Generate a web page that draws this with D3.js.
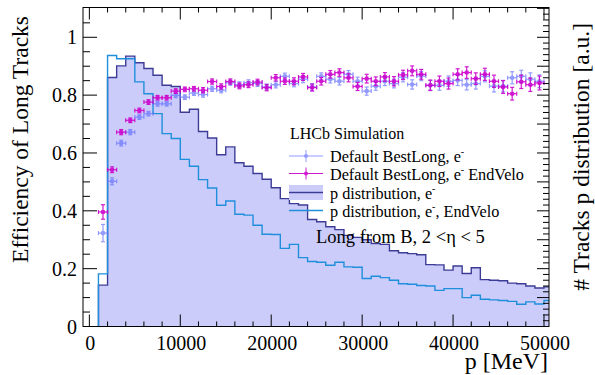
<!doctype html>
<meta charset="utf-8">
<title>Efficiency of Long Tracks</title>
<script src="https://cdn.jsdelivr.net/npm/d3@7/dist/d3.min.js"></script>
<style>
  body { margin: 0; background: #fff; }
  text { font-family: "Liberation Serif", "Times New Roman", serif; fill: #000; }
</style>
<body>
<div id="chart"></div>
<script>

// histogram bins, 1000 MeV wide (low edges)
var binLo = [1000, 2000, 3000, 4000, 5000, 6000, 7000, 8000, 9000, 10000,
  11000, 12000, 13000, 14000, 15000, 16000, 17000, 18000, 19000, 20000,
  21000, 22000, 23000, 24000, 25000, 26000, 27000, 28000, 29000, 30000,
  31000, 32000, 33000, 34000, 35000, 36000, 37000, 38000, 39000, 40000,
  41000, 42000, 43000, 44000, 45000, 46000, 47000, 48000, 49000, 50000];
var binWidth = 1000;

// p distribution, e- (filled)
var histAll = [0.143, 0.861, 0.901, 0.935, 0.912, 0.892, 0.869, 0.834, 0.830, 0.741,
  0.751, 0.674, 0.652, 0.594, 0.621, 0.566, 0.554, 0.529, 0.509, 0.480,
  0.442, 0.425, 0.420, 0.370, 0.362, 0.345, 0.335, 0.315, 0.308, 0.300,
  0.287, 0.284, 0.262, 0.255, 0.252, 0.248, 0.214, 0.213, 0.195, 0.209,
  0.183, 0.203, 0.162, 0.160, 0.158, 0.150, 0.148, 0.140, 0.133, 0.137];

// p distribution, e-, EndVelo
var histEndVelo = [0.182, 0.937, 0.926, 0.926, 0.846, 0.805, 0.736, 0.667, 0.650, 0.578,
  0.554, 0.508, 0.479, 0.419, 0.434, 0.388, 0.385, 0.350, 0.319, 0.318,
  0.270, 0.284, 0.238, 0.225, 0.222, 0.212, 0.222, 0.206, 0.205, 0.166,
  0.174, 0.169, 0.160, 0.148, 0.146, 0.142, 0.140, 0.125, 0.131, 0.131,
  0.100, 0.108, 0.094, 0.092, 0.090, 0.087, 0.077, 0.085, 0.078, 0.090];

// efficiency points (bin centres)
var effP = [1500, 2500, 3500, 4500, 5500, 6500, 7500, 8500, 9500, 10500,
  11500, 12500, 13500, 14500, 15500, 16500, 17500, 18500, 19500, 20500,
  21500, 22500, 23500, 24500, 25500, 26500, 27500, 28500, 29500, 30500,
  31500, 32500, 33500, 34500, 35500, 36500, 37500, 38500, 39500, 40500,
  41500, 42500, 43500, 44500, 45500, 46500, 47500, 48500, 49500];

var effBest = [0.323, 0.502, 0.634, 0.672, 0.724, 0.736, 0.770, 0.770, 0.799, 0.793,
  0.807, 0.802, 0.822, 0.817, 0.843, 0.836, 0.843, 0.840, 0.828, 0.836,
  0.865, 0.840, 0.855, 0.828, 0.865, 0.855, 0.848, 0.872, 0.848, 0.814,
  0.831, 0.848, 0.840, 0.862, 0.837, 0.866, 0.834, 0.834, 0.848, 0.851,
  0.836, 0.840, 0.865, 0.831, 0.831, 0.860, 0.865, 0.855, 0.848];
var errBest = [0.030, 0.012, 0.010, 0.009, 0.008, 0.008, 0.008, 0.008, 0.008, 0.008,
  0.008, 0.009, 0.009, 0.009, 0.009, 0.010, 0.010, 0.010, 0.010, 0.011,
  0.011, 0.011, 0.012, 0.012, 0.012, 0.013, 0.013, 0.013, 0.014, 0.014,
  0.014, 0.015, 0.015, 0.016, 0.016, 0.016, 0.017, 0.017, 0.018, 0.018,
  0.018, 0.019, 0.019, 0.020, 0.020, 0.021, 0.021, 0.022, 0.022];

var effEndVelo = [0.396, 0.542, 0.672, 0.713, 0.747, 0.776, 0.791, 0.791, 0.814, 0.820,
  0.822, 0.817, 0.847, 0.830, 0.847, 0.832, 0.836, 0.845, 0.826, 0.860,
  0.848, 0.848, 0.863, 0.826, 0.848, 0.872, 0.878, 0.860, 0.830, 0.857,
  0.848, 0.863, 0.848, 0.870, 0.884, 0.872, 0.834, 0.848, 0.840, 0.872,
  0.878, 0.857, 0.872, 0.848, 0.828, 0.805, 0.846, 0.836, 0.842];
var errEndVelo = [0.025, 0.010, 0.009, 0.008, 0.008, 0.008, 0.008, 0.008, 0.008, 0.008,
  0.008, 0.009, 0.009, 0.009, 0.009, 0.010, 0.010, 0.010, 0.011, 0.011,
  0.011, 0.012, 0.012, 0.012, 0.013, 0.013, 0.013, 0.014, 0.014, 0.015,
  0.015, 0.015, 0.016, 0.016, 0.017, 0.017, 0.018, 0.018, 0.019, 0.019,
  0.020, 0.020, 0.021, 0.021, 0.022, 0.022, 0.023, 0.023, 0.024];

var xTicks = [0, 10000, 20000, 30000, 40000, 50000];
var yTicks = [0, 0.2, 0.4, 0.6, 0.8, 1];
var yTickLabels = ["0", "0.2", "0.4", "0.6", "0.8", "1"];

var W = 595, H = 375;
var fL = 83, fR = 549, fT = 7.5, fB = 326.5;

var cFill = "#ccccfb", cDark = "#3c3c96", cLight = "#1f8fdc",
    cBlue = "#6670ff", cMag = "#cc00cc";

var svg = d3.select("#chart").append("svg")
  .attr("width", W).attr("height", H);

var x = d3.scaleLinear().domain([-700, 50550]).range([fL, fR]);
var y = d3.scaleLinear().domain([0, 1.103]).range([fB, fT]);

svg.append("clipPath").attr("id", "frame")
  .append("rect").attr("x", fL).attr("y", fT)
  .attr("width", fR - fL).attr("height", fB - fT);

var plot = svg.append("g").attr("clip-path", "url(#frame)");

function stepPoints(vals) {
  var pts = [[x(binLo[0]), y(0)]];
  vals.forEach(function(v, i) {
    pts.push([x(binLo[i]), y(v)]);
    pts.push([x(binLo[i] + binWidth), y(v)]);
  });
  pts.push([x(binLo[binLo.length - 1] + binWidth), y(0)]);
  return pts;
}

var line = d3.line();

plot.append("path")
  .attr("d", line(stepPoints(histAll)) + "Z")
  .attr("fill", cFill).attr("stroke", "none");
plot.append("path")
  .attr("d", line(stepPoints(histAll)))
  .attr("fill", "none").attr("stroke", cDark).attr("stroke-width", 1.4);
plot.append("path")
  .attr("d", line(stepPoints(histEndVelo)))
  .attr("fill", "none").attr("stroke", cLight).attr("stroke-width", 1.4);

function drawPoints(vals, errs, col, op) {
  var g = plot.append("g").attr("stroke", col).attr("fill", col)
    .attr("opacity", op).attr("stroke-width", 1.2);
  vals.forEach(function(v, i) {
    var cx = x(effP[i]), cy = y(v);
    var x0 = x(effP[i] - 500), x1 = x(effP[i] + 500);
    var y0 = y(v - errs[i]), y1 = y(v + errs[i]);
    g.append("line").attr("x1", x0).attr("x2", x1).attr("y1", cy).attr("y2", cy);
    g.append("line").attr("x1", x0).attr("x2", x0).attr("y1", cy - 2).attr("y2", cy + 2);
    g.append("line").attr("x1", x1).attr("x2", x1).attr("y1", cy - 2).attr("y2", cy + 2);
    g.append("line").attr("x1", cx).attr("x2", cx).attr("y1", y0).attr("y2", y1);
    g.append("line").attr("x1", cx - 2).attr("x2", cx + 2).attr("y1", y0).attr("y2", y0);
    g.append("line").attr("x1", cx - 2).attr("x2", cx + 2).attr("y1", y1).attr("y2", y1);
    g.append("circle").attr("cx", cx).attr("cy", cy).attr("r", 2.3).attr("stroke", "none");
  });
}
drawPoints(effBest, errBest, cBlue, 0.7);
drawPoints(effEndVelo, errEndVelo, cMag, 0.9);

// frame
svg.append("rect").attr("x", fL).attr("y", fT)
  .attr("width", fR - fL).attr("height", fB - fT)
  .attr("fill", "none").attr("stroke", "#000").attr("stroke-width", 1);

// ticks
var axes = svg.append("g").attr("stroke", "#000").attr("stroke-width", 1);
d3.range(0, 50001, 2000).forEach(function(v) {
  var len = v % 10000 === 0 ? 12 : 5;
  axes.append("line").attr("x1", x(v)).attr("x2", x(v)).attr("y1", fB).attr("y2", fB - len);
  axes.append("line").attr("x1", x(v)).attr("x2", x(v)).attr("y1", fT).attr("y2", fT + len);
});
d3.range(0, 22).forEach(function(i) {
  var v = i * 0.05, len = i % 4 === 0 ? 14 : 7;
  axes.append("line").attr("x1", fL).attr("x2", fL + len).attr("y1", y(v)).attr("y2", y(v));
});
d3.range(0, 56).forEach(function(i) {
  var v = i * 0.02, len = i % 5 === 0 ? 12 : 6;
  axes.append("line").attr("x1", fR).attr("x2", fR - len).attr("y1", y(v)).attr("y2", y(v));
});

// tick labels
svg.append("g").selectAll("text").data(xTicks).enter().append("text")
  .attr("x", function(d) { return x(d) + 1; })
  .attr("y", 350)
  .attr("text-anchor", "middle")
  .attr("font-size", 20)
  .text(function(d) { return d; });

svg.append("g").selectAll("text").data(yTicks).enter().append("text")
  .attr("x", 77)
  .attr("y", function(d) { return y(d) + 7; })
  .attr("text-anchor", "end")
  .attr("font-size", 20)
  .text(function(d, i) { return yTickLabels[i]; });

// axis titles
svg.append("text").attr("transform", "translate(28,16) rotate(-90)")
  .attr("text-anchor", "end").attr("font-size", 23.5)
  .text("Efficiency of Long Tracks");
svg.append("text").attr("transform", "translate(589,23) rotate(-90)")
  .attr("text-anchor", "end").attr("font-size", 23.5)
  .text("# Tracks p distribution [a.u.]");
svg.append("text").attr("x", 548).attr("y", 369)
  .attr("text-anchor", "end").attr("font-size", 24)
  .text("p [MeV]");

// legend
var lg = svg.append("g");
lg.append("text").attr("x", 290).attr("y", 139).attr("font-size", 16).text("LHCb Simulation");

function richText(xp, yp, parts, size) {
  var t = lg.append("text").attr("x", xp).attr("y", yp).attr("font-size", size);
  parts.forEach(function(p) {
    if (p.sup) t.append("tspan").attr("dy", -7).attr("font-size", 10).text(p.t);
    else t.append("tspan").attr("dy", p.after ? 7 : 0).text(p.t);
  });
}

var entries = [
  { y: 156, kind: "pt", col: cBlue, op: 0.7, parts: [{ t: "Default BestLong, e" }, { t: "-", sup: true }] },
  { y: 173.5, kind: "pt", col: cMag, op: 0.9, parts: [{ t: "Default BestLong, e" }, { t: "-", sup: true }, { t: " EndVelo", after: true }] },
  { y: 192.5, kind: "fill", col: cDark, parts: [{ t: "p distribution, e" }, { t: "-", sup: true }] },
  { y: 210.5, kind: "line", col: cLight, parts: [{ t: "p distribution, e" }, { t: "-", sup: true }, { t: ", EndVelo", after: true }] }
];
entries.forEach(function(e) {
  if (e.kind === "fill") {
    lg.append("rect").attr("x", 289).attr("y", e.y - 7.5).attr("width", 34).attr("height", 15)
      .attr("fill", cFill);
  }
  var g = lg.append("g").attr("stroke", e.col).attr("fill", e.col).attr("opacity", e.op || 1);
  g.append("line").attr("x1", 289).attr("x2", 323).attr("y1", e.y).attr("y2", e.y)
    .attr("stroke-width", e.kind === "pt" ? 1 : 1.4);
  if (e.kind === "pt") {
    g.append("line").attr("x1", 306).attr("x2", 306).attr("y1", e.y - 6).attr("y2", e.y + 6);
    g.append("circle").attr("cx", 306).attr("cy", e.y).attr("r", 2).attr("stroke", "none");
  }
  richText(330, e.y + 6, e.parts, 16.2);
});

lg.append("text").attr("x", 316).attr("y", 243).attr("font-size", 18.5)
  .text("Long from B, 2 <\u03b7 < 5");

</script>
</body>
